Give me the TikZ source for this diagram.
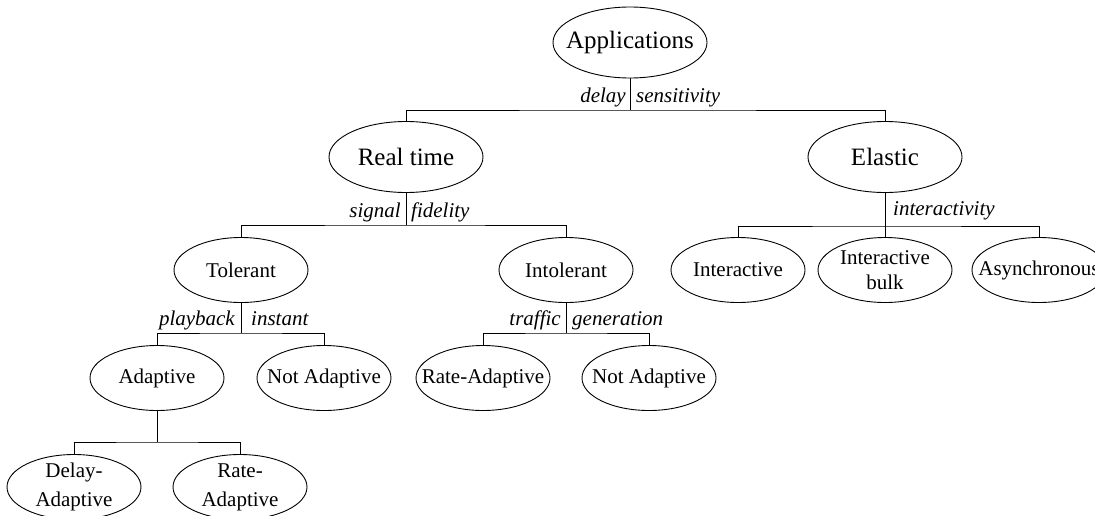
\documentclass[tikz,border=0pt]{standalone}
\usepackage{fontspec}
\setmainfont{Liberation Serif}
\usetikzlibrary{shapes.geometric}
\tikzset{
  oval/.style={draw, ellipse, inner sep=0pt, line width=0.9},
  big/.style={oval, minimum width=154, minimum height=71,
    label={[font=\fontsize{25}{28}\selectfont, inner sep=0pt]center:#1}},
  small/.style={oval, minimum width=134, minimum height=65,
    label={[font=\fontsize{21}{25}\selectfont, align=center, inner sep=0pt]center:#1}},
  lbl/.style={font=\fontsize{21}{25}\selectfont\itshape, inner sep=0pt},
  link/.style={line width=0.9}
}
\begin{document}
\begin{tikzpicture}[x=1pt,y=-1pt]
\clip (0,0) rectangle (1095,515);
\fill[white] (0,0) rectangle (1095,515);

% tree nodes
\node[big={Applications}] (app) at (630,42.5) {};
\node[big={Real time}] (rt) at (406,157) {};
\node[big={Elastic}] (el) at (885,157) {};

\node[small={Tolerant}] (tol) at (241,270) {};
\node[small={Intolerant}] (intol) at (566,270) {};
\node[small={Interactive}] (inter) at (738,270) {};
\node[small={{Interactive\\bulk}}] (bulk) at (885,270) {};
\node[small={Asynchronous}] (async) at (1039,270) {};

\node[small={Adaptive}] (adap) at (157,378) {};
\node[small={Not Adaptive}] (na1) at (324,378) {};
\node[small={Rate-Adaptive}] (ra1) at (483,378) {};
\node[small={Not Adaptive}] (na2) at (649,378) {};

\node[small={{Delay-\\[4pt]Adaptive}}] (da) at (74,487) {};
\node[small={{Rate-\\[4pt]Adaptive}}] (ra2) at (240,487) {};

% branching points
\coordinate (japp) at (630,110);
\coordinate (jrt) at (406,225);
\coordinate (jel) at (885,226);
\coordinate (jtol) at (241,333);
\coordinate (jintol) at (566,333);
\coordinate (jadap) at (157,442);

% connectors
\draw[link] (app.south) -- (japp);
\draw[link] (rt.north) |- (japp) -| (el.north);

\draw[link] (rt.south) -- (jrt);
\draw[link] (tol.north) |- (jrt) -| (intol.north);

\draw[link] (el.south) -- (bulk.north);
\draw[link] (inter.north) |- (jel) -| (async.north);

\draw[link] (tol.south) -- (jtol);
\draw[link] (adap.north) |- (jtol) -| (na1.north);

\draw[link] (intol.south) -- (jintol);
\draw[link] (ra1.north) |- (jintol) -| (na2.north);

\draw[link] (adap.south) -- (jadap);
\draw[link] (da.north) |- (jadap) -| (ra2.north);

% branch criteria
\node[lbl, anchor=base east] (l1a) at (626,102) {delay};
\node[lbl, anchor=base west] (l1b) at (636,102) {sensitivity};
\node[lbl, anchor=base east] (l2a) at (401,217) {signal};
\node[lbl, anchor=base west] (l2b) at (411,217) {fidelity};
\node[lbl, anchor=base west] (l3) at (893,215) {interactivity};
\node[lbl, anchor=base east] (l4a) at (235,325) {playback};
\node[lbl, anchor=base west] (l4b) at (251,325) {instant};
\node[lbl, anchor=base east] (l5a) at (561,325) {traffic};
\node[lbl, anchor=base west] (l5b) at (572,325) {generation};
\end{tikzpicture}
\end{document}
